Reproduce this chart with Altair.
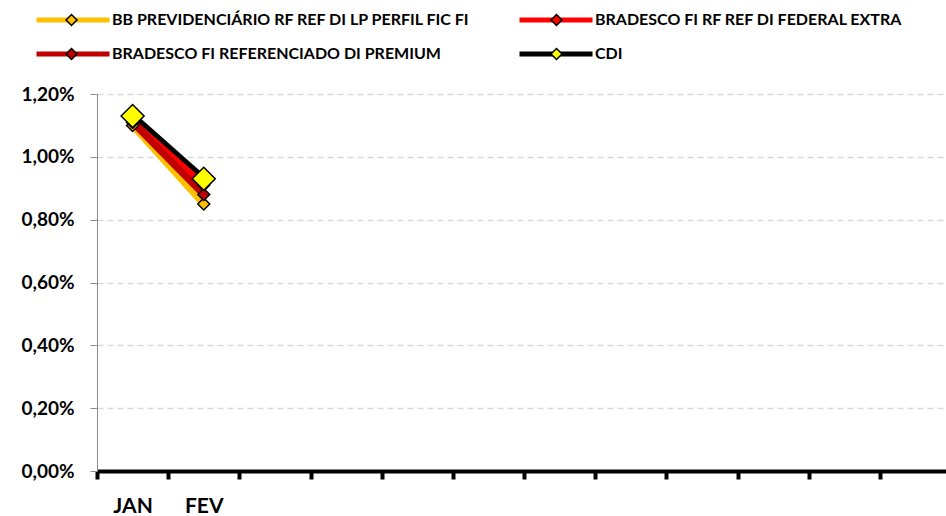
import altair as alt
import pandas as pd

# Meses do eixo e séries (rentabilidade mensal, %)
meses = ["JAN", "FEV", "MAR", "ABR", "MAI", "JUN", "JUL", "AGO", "SET", "OUT", "NOV", "DEZ"]
meses_com_dados = ["JAN", "FEV"]

series = [
    "BB PREVIDENCIÁRIO RF REF DI LP PERFIL FIC FI",
    "BRADESCO FI RF REF DI FEDERAL EXTRA",
    "BRADESCO FI REFERENCIADO DI PREMIUM",
    "CDI",
]
bb_prev = [1.10, 0.85]
bradesco_federal = [1.11, 0.91]
bradesco_premium = [1.11, 0.88]
cdi = [1.13, 0.93]

valores_y = [0.0, 0.2, 0.4, 0.6, 0.8, 1.0, 1.2]

cores_linha = ["#FFC000", "#FF0000", "#C00000", "#000000"]
cores_marcador = ["#FFC000", "#FF0000", "#C00000", "#FFFF00"]

linhas = []
for nome, vals in zip(series, [bb_prev, bradesco_federal, bradesco_premium, cdi]):
    for mes, v in zip(meses_com_dados, vals):
        linhas.append({"serie": nome, "mes": mes, "valor": v})
df = pd.DataFrame(linhas)

FONTE = "Lato"
W, H = 849, 377

x_enc = alt.X(
    "mes:N",
    sort=meses,
    scale=alt.Scale(type="band", domain=meses, range=[0, 854], paddingInner=0, paddingOuter=0),
    axis=alt.Axis(
        title=None,
        tickBand="extent",
        labelExpr="indexof(" + str(meses_com_dados) + ", datum.value) >= 0 ? datum.value : ''",
        labelFont=FONTE, labelFontSize=21, labelFontWeight="bold", labelColor="black",
        labelPadding=16, labelAngle=0,
        domainColor="black", domainWidth=4,
        tickColor="black", tickWidth=4, tickSize=8,
        grid=False,
    ),
)
y_enc = alt.Y(
    "valor:Q",
    scale=alt.Scale(domain=[0, 1.2], nice=False, zero=True),
    axis=alt.Axis(
        title=None,
        values=valores_y,
        labelExpr="replace(format(datum.value, '.2f'), '.', ',') + '%'",
        labelFont=FONTE, labelFontSize=19, labelFontWeight="bold", labelColor="black",
        labelPadding=16,
        domainColor="#8c8c8c", domainWidth=1,
        tickColor="#8c8c8c", tickWidth=1, tickSize=7,
        grid=True, gridColor="#d9d9d9", gridWidth=1.5, gridDash=[6, 4],
    ),
)

legenda_comum = dict(
    title=None, orient="none", legendX=-63, legendY=-84, columns=2, direction="horizontal",
    rowPadding=14, clipHeight=20, padding=0, symbolSize=5329,
)

# Legenda das linhas (com os nomes)
cor_linha = alt.Color(
    "serie:N",
    scale=alt.Scale(domain=series, range=cores_linha),
    legend=alt.Legend(
        symbolType="stroke", symbolStrokeWidth=5,
        labelFont=FONTE, labelFontSize=16, labelFontWeight="bold", labelColor="black",
        labelLimit=700, labelOffset=0, columnPadding=46,
        **legenda_comum,
    ),
)

base = alt.Chart(df).encode(x=x_enc, y=y_enc)

linha_cdi = base.transform_filter(alt.datum.serie == "CDI").mark_line(
    strokeWidth=7, strokeCap="round", strokeJoin="round"
).encode(color=cor_linha)

linhas_fundos = base.transform_filter(alt.datum.serie != "CDI").mark_line(
    strokeWidth=7, strokeCap="round", strokeJoin="round"
).encode(color=cor_linha)

# Losangos sobrepostos às linhas da legenda (sem texto)
marcadores = base.transform_calculate(serie_m="datum.serie").mark_point(
    shape="diamond", filled=True, stroke="black", strokeWidth=1.5, opacity=1
).encode(
    fill=alt.Fill(
        "serie_m:N",
        sort=series,
        scale=alt.Scale(range=cores_marcador),
        legend=alt.Legend(
            symbolType="M-1,0M1,0M-0.15,0L0,-0.15L0.15,0L0,0.15Z",
            symbolStrokeColor="black", symbolStrokeWidth=1.5,
            labelExpr="''", labelOffset=0, labelFontSize=16, columnPadding=410,
            **legenda_comum,
        ),
    ),
    size=alt.condition(alt.datum.serie == "CDI", alt.value(529), alt.value(144)),
)

chart = (
    alt.layer(linha_cdi, linhas_fundos, marcadores)
    .properties(
        width=W, height=H,
        autosize=alt.AutoSizeParams(type="none"),
        padding={"left": 97, "top": 94, "right": 0, "bottom": 516 - 94 - H},
        background="white",
    )
    .configure_view(stroke=None)
)

chart.save("out.html", embed_options={"renderer": "svg", "actions": False})
